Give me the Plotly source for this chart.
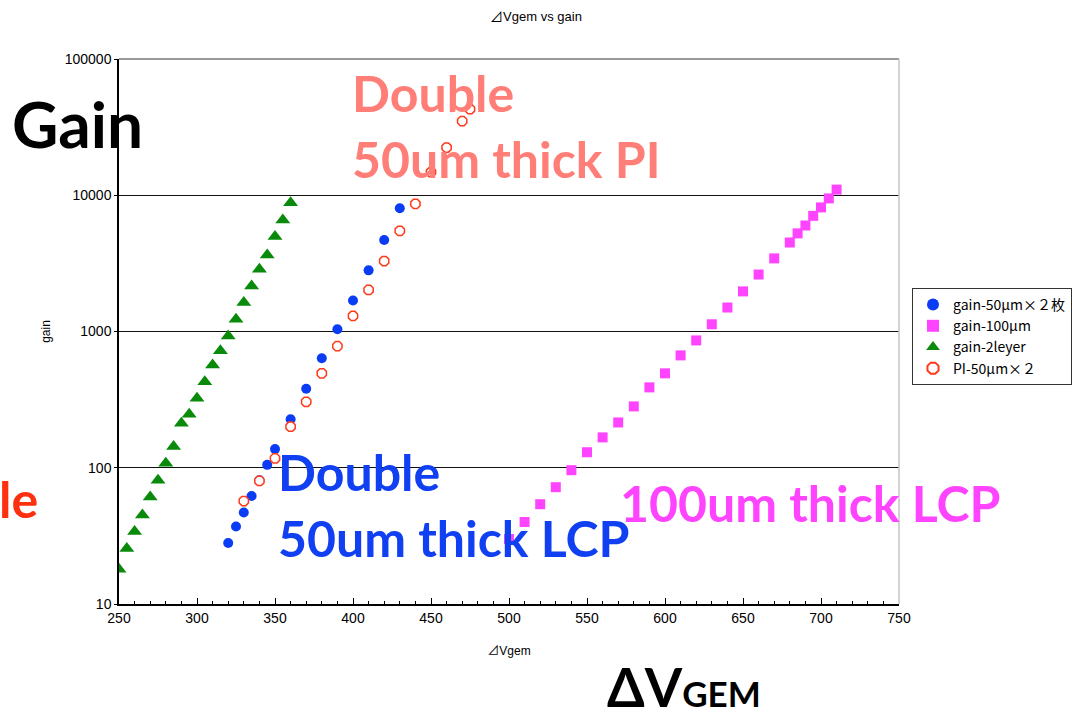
import plotly.graph_objects as go

# ---------------- data ----------------
v_50x2 = [320, 325, 330, 335, 340, 345, 350, 360, 370, 380, 390, 400, 410, 420, 430]
g_50x2 = [28, 37, 47, 62, 81, 105, 137, 227, 380, 636, 1040, 1690, 2810, 4690, 8020]

v_100 = [500, 510, 520, 530, 540, 550, 560, 570, 580, 590, 600, 610, 620, 630, 640,
         650, 660, 670, 680, 685, 690, 695, 700, 705, 710]
g_100 = [30, 40, 54, 72, 96, 130, 167, 215, 282, 389, 493, 668, 860, 1130, 1500,
         1970, 2620, 3440, 4500, 5250, 6000, 7060, 8140, 9480, 11000]

v_2layer = [250, 255, 260, 265, 270, 275, 280, 285, 290, 295, 300, 305, 310, 315, 320,
            325, 330, 335, 340, 345, 350, 355, 360]
g_2layer = [18, 25.6, 34, 45, 61, 81, 108, 143, 212, 247, 323, 428, 568, 723, 927,
            1230, 1630, 2160, 2860, 3640, 4970, 6580, 8810]

v_pi = [330, 340, 350, 360, 370, 380, 390, 400, 410, 420, 430, 440, 450, 460, 470, 475]
g_pi = [57, 80, 117, 200, 305, 493, 781, 1300, 2020, 3290, 5480, 8650, 14800, 22400, 35000, 42800]

series_names = ["gain-50μm×２枚", "gain-100μm", "gain-2leyer", "PI-50μm×２"]

x_ticks = [250, 300, 350, 400, 450, 500, 550, 600, 650, 700, 750]
y_tickvals = [10, 100, 1000, 10000, 100000]
y_ticktext = ["10", "100", "1000", "10000", "100000"]

# ---------------- figure ----------------
W, H = 1072, 721
L, R, T, B = 119, 899, 59, 604   # plot-area pixel box

def px(x):
    return (x - L) / (R - L)

def py(y):
    return (B - y) / (B - T)

base_font = "Liberation Sans, Arial, Noto Sans CJK JP, sans-serif"
legend_font = "Noto Sans CJK JP, Liberation Sans, sans-serif"
hand_font = "Lato, Noto Sans, sans-serif"

fig = go.Figure()
fig.add_trace(go.Scatter(x=v_50x2, y=g_50x2, mode="markers", name=series_names[0],
                         marker=dict(symbol="circle", size=10, color="#0b3cf5")))
fig.add_trace(go.Scatter(x=v_100, y=g_100, mode="markers", name=series_names[1],
                         marker=dict(symbol="square", size=10, color="#ff44ff")))
fig.add_trace(go.Scatter(x=v_2layer, y=g_2layer, mode="markers", name=series_names[2],
                         marker=dict(symbol="triangle-up", size=13, color="#0a8a0a")))
fig.add_trace(go.Scatter(x=v_pi, y=g_pi, mode="markers", name=series_names[3],
                         marker=dict(symbol="octagon", size=10, color="white",
                                     line=dict(color="#ff3a1a", width=1.5))))

fig.update_layout(
    width=W, height=H,
    margin=dict(l=L, r=W - R, t=T, b=H - B, autoexpand=False),
    paper_bgcolor="white", plot_bgcolor="white",
    font=dict(family=base_font, size=13, color="black"),
    title=dict(text="⊿Vgem vs gain", x=0.5, xanchor="center", y=1 - 16 / H, yanchor="middle",
               font=dict(size=13, color="black")),
    showlegend=True,
    legend=dict(x=px(912), y=py(288), xanchor="left", yanchor="top",
                bgcolor="white", bordercolor="#333333", borderwidth=1,
                font=dict(family=legend_font, size=14, color="black"),
                itemsizing="constant", itemwidth=30, tracegroupgap=0),
)

fig.update_xaxes(
    range=[250, 750], tickvals=x_ticks, ticks="inside", ticklen=6, tickcolor="black",
    showline=True, linecolor="black", linewidth=1.5, showgrid=False, zeroline=False,
    minor=dict(ticks="inside", dtick=10, ticklen=3, tickcolor="black", showgrid=False),
    tickfont=dict(size=14),
    title=dict(text="⊿Vgem", font=dict(size=12), standoff=22),
    automargin=False,
)
fig.update_yaxes(
    type="log", range=[1, 5], tickvals=y_tickvals, ticktext=y_ticktext,
    ticks="outside", ticklen=3, tickcolor="black",
    showline=True, linecolor="black", linewidth=1.5,
    showgrid=True, gridcolor="#111111", gridwidth=1, zeroline=False,
    tickfont=dict(size=14),
    title=dict(text="gain", font=dict(size=12), standoff=12),
    automargin=False,
)

# frame: top (gray) and right (light gray)
fig.add_shape(type="line", xref="paper", yref="paper", x0=0, x1=1, y0=1, y1=1,
              line=dict(color="#777777", width=1.5))
fig.add_shape(type="line", xref="paper", yref="paper", x0=1, x1=1, y0=0, y1=1,
              line=dict(color="#c4c4c4", width=1.5))

def note(text, x, y, color, size):
    fig.add_annotation(text=text, xref="paper", yref="paper", x=px(x), y=py(y),
                       xanchor="left", yanchor="middle", showarrow=False,
                       font=dict(family=hand_font, size=size, color=color))

note("<b>Gain</b>", 10, 124, "black", 64)
note("<b>Double</b>", 350, 93, "#ff7f78", 50)
note("<b>50um thick PI</b>", 350, 159, "#ff7f78", 50)
note("<b>Double</b>", 276, 472, "#1040f2", 50)
note("<b>50um thick LCP</b>", 276, 538, "#1040f2", 50)
note("<b>100um thick LCP</b>", 618, 503, "#ff44ff", 50)
note("<b>le</b>", -3, 499, "#ff3010", 50)
note("<b>ΔV<span style='font-size:35px'>GEM</span></b>", 605, 686, "black", 54)

fig.write_html("out.html", config={"displayModeBar": False},
               post_script="document.body.style.margin='0';document.body.style.overflow='hidden';")
